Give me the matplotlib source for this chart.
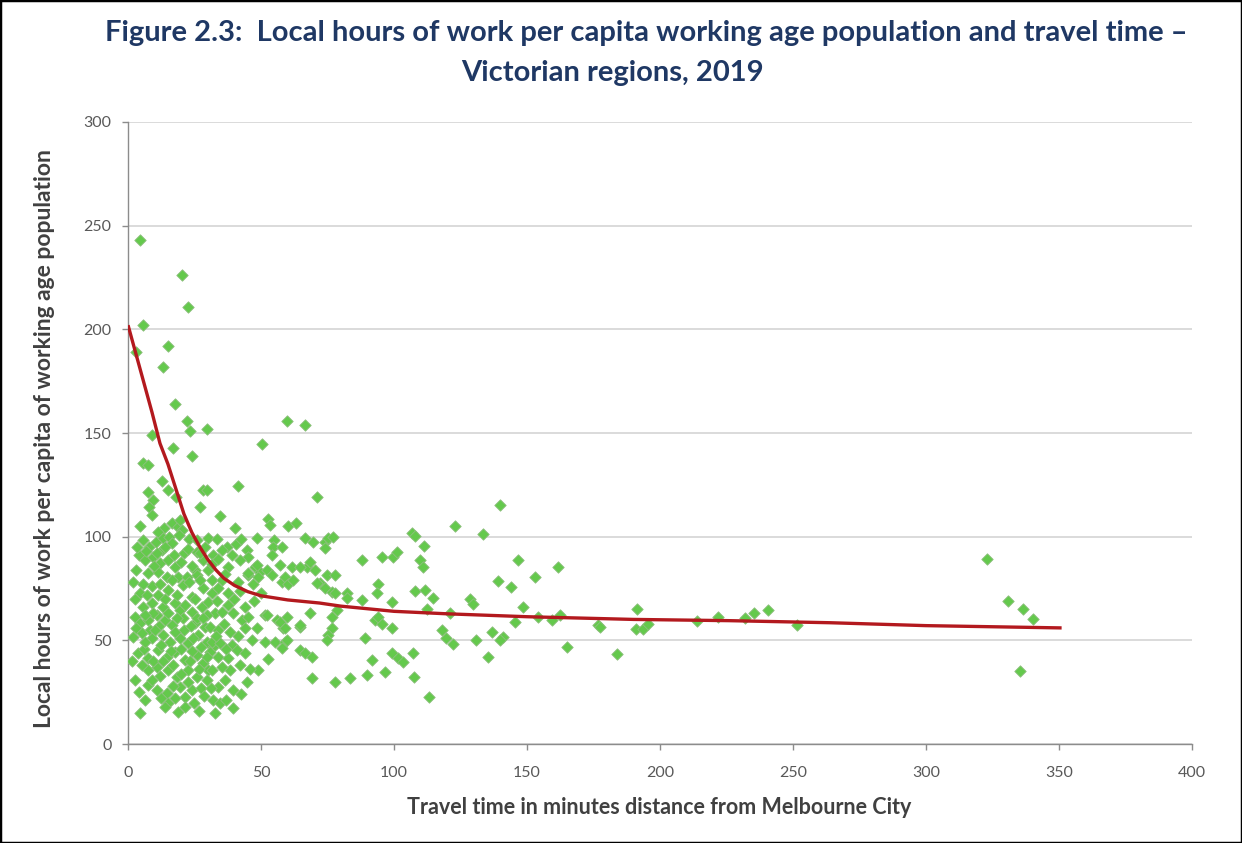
import numpy as np
import matplotlib.pyplot as plt
from matplotlib.patches import Rectangle

plt.rcParams['font.family'] = ['Lato', 'DejaVu Sans']

# regions close to the CBD, high hours (minutes, hours per capita)
upper_pts = [(4.5, 243), (20.2, 226), (22.7, 211), (5.8, 202), (3, 189), (15.2, 192),
             (13.3, 182), (17.7, 164), (22, 156), (23.3, 151), (29.8, 152), (50.3, 144.7),
             (59.7, 156), (66.5, 154), (17, 143), (24, 139), (8.9, 149), (5.8, 135.5),
             (7.5, 134.6), (12.7, 127), (15.2, 122.5), (28.3, 122.5), (29.7, 122.5),
             (7.6, 121.5), (41.5, 124.5), (71, 119.3), (9.5, 117.7), (8, 114.5), (8.9, 110.5),
             (18, 119), (27.2, 114.4), (34.6, 110), (4.5, 105), (13.6, 104.4), (16.4, 106.6),
             (18.8, 104.7), (19.5, 108), (20.2, 103.2), (11.3, 102.4), (52.7, 108.7),
             (53.4, 105.4), (60, 105), (63, 106.5), (40.2, 104)]

# inner band, 80 to 100 hours
mid_pts = [(5.5, 98.4), (8, 95.2), (10.5, 97.3), (13.3, 99.4), (15.5, 100), (16.5, 97),
           (19, 100.8), (23, 98.8), (25.8, 98.4), (25.8, 92.7), (30.2, 99.3), (33.3, 99),
           (37.1, 95.2), (40.5, 96.3), (44.6, 93.6), (35.2, 93.6), (48.4, 99.5), (55, 98.5),
           (54.6, 95), (58, 95.2), (4, 91), (12.7, 93.6), (6.4, 88.8), (9.5, 90.4), (12, 87.1),
           (15.2, 88.8), (17.7, 85.5), (7.6, 82.3), (11.4, 83.1), (14.5, 80.7), (18.9, 80.7),
           (28.3, 88.8), (30.2, 83.9), (25.2, 83.9), (22.1, 80.7), (25.8, 81.5), (54, 91),
           (45.2, 90.4), (42.1, 88.8), (57.1, 86.3), (47.7, 85.5), (49.6, 83.1), (37.7, 85.5),
           (45.2, 81.5), (48.4, 86.3), (52.1, 83.9), (3, 84), (21, 92), (32, 91),
           (3.5, 95), (6.8, 93), (9.8, 86), (11, 92), (14, 95), (17.2, 91), (20, 88),
           (22.5, 94), (24, 86), (27, 92), (29, 95), (31.5, 87), (34, 89), (36.5, 82),
           (39, 91), (42.5, 99)]

# inner band, 55 to 80 hours
low_pts = [(4.5, 72.7), (11.4, 71.9), (15.2, 74.3), (20.8, 76.7), (23.9, 71), (28.3, 75.1),
           (31.5, 72.7), (5.8, 66.2), (8.9, 67.9), (17.7, 67.9), (19.5, 64.6), (23.9, 63.8),
           (27.7, 66.2), (30.2, 68.6), (2.6, 61.4), (4.5, 58.2), (7.6, 59.8), (10.8, 62.2),
           (13.9, 59.8), (16.4, 57.4), (20.8, 60.6), (25.2, 58.2), (28.9, 56.6), (45.2, 82.3),
           (49, 80.7), (54, 81.5), (57.8, 78.3), (31.5, 79.1), (34, 75.1), (37.7, 72.7),
           (32.7, 63), (35.2, 63.8), (37.7, 67), (42.7, 59.8), (45.2, 61.4), (44, 55.8),
           (51.5, 62.2), (55.9, 59.8), (58.4, 55.8), (52.1, 62.2), (57.1, 59), (59.7, 61.4),
           (42, 74), (47, 77), (50, 73), (40, 70), (9, 76), (2, 78), (13, 66), (25, 70),
           (2.8, 70), (5.5, 77), (7, 72), (9.5, 63), (12.2, 77), (14, 70), (16.5, 79),
           (18.5, 72), (21.5, 67), (22.8, 78), (26, 61), (27, 79), (29.5, 62), (33.5, 69),
           (35.5, 79), (39.5, 63), (41.5, 78), (44, 66), (47.5, 69), (3, 56), (6.2, 62),
           (8.2, 55), (11.7, 57), (15, 63), (18.5, 61), (21, 55), (23.5, 57), (28, 61),
           (36, 58), (48.5, 56)]

# inner band, under 55 hours
bottom_pts = [(2, 51.8), (5.1, 53.4), (8.9, 51), (13.3, 52.6), (15.8, 49.3), (19.5, 51),
              (22.7, 48.6), (26.4, 52.6), (29.6, 49.3), (32.1, 46.9), (3.9, 43.7), (7.6, 41.3),
              (11.4, 45.3), (14.5, 42.1), (17.7, 44.5), (21.4, 40.5), (25.8, 42.9), (28.3, 38.9),
              (2.6, 30.9), (7.6, 35.7), (10.8, 37.3), (15.2, 35.7), (18.3, 32.5), (22.7, 35.7),
              (25.8, 32.5), (30.2, 35.7), (7.6, 28.5), (10.8, 26), (14.5, 24.5), (19.5, 27.6),
              (21.4, 22.8), (15.2, 19.6), (23.9, 26), (4.5, 14.8), (13.9, 18), (18.9, 15.6),
              (21.4, 18), (30.8, 56.6), (34, 55), (38.3, 54.2), (31.5, 49.3), (34.6, 48.6),
              (39, 47.8), (40.9, 45.3), (44, 43.7), (30.8, 44.5), (34, 42.1), (37.7, 41.3),
              (51.5, 49.3), (55.3, 49.3), (59, 49.3), (57.8, 46.1), (49, 35.7), (52.7, 40.9),
              (38.3, 35.7), (44.6, 30), (31.5, 35.7), (29.6, 30.9), (34, 27.6), (39.6, 26),
              (32.1, 21.2), (34.6, 19.6), (32.7, 14.8), (39.6, 17.2), (10, 55), (17, 38),
              (6, 46), (24, 45), (12.5, 48), (17.5, 54), (24.5, 51), (27.5, 47), (33, 52),
              (37, 46), (41.5, 52), (46.5, 50), (1.5, 40), (5.2, 38), (6.2, 49), (9.5, 40),
              (12, 33), (13, 40), (16.2, 45), (19.8, 46), (20, 34), (23.2, 40), (26.8, 36),
              (27.5, 27), (29.5, 42), (35.5, 37), (36.5, 31), (42, 38), (46, 36), (4, 25),
              (6.5, 21), (9, 31), (12.5, 22), (16.8, 28), (17.5, 22), (22.5, 30), (24.8, 20),
              (26.5, 16), (28.5, 23), (31, 27), (37, 21), (42.5, 24)]

# middle distance regions
outer_pts = [(59, 80.7), (60.3, 77.4), (61.5, 85.5), (67.2, 85.5), (70.3, 83.9), (74.7, 81.5),
             (77.8, 81.5), (72.2, 77.5), (74.1, 75.1), (76.6, 73.5), (77.8, 72.7), (82.2, 72.7),
             (82.2, 70.3), (87.8, 88.8), (95.4, 90), (99.7, 90.4), (101, 92.7), (94.1, 77.4),
             (93.5, 72.7), (87.8, 69.5), (99.1, 68.7), (68.4, 63), (76.6, 61.4), (64.7, 56.6),
             (59, 55.8), (92.9, 59.8), (94.1, 61.4), (95.4, 58.1), (99.1, 55.8), (76.6, 55.8),
             (75.3, 52.6), (74.7, 50.2), (59.7, 50.2), (89.1, 51), (64.7, 45.3), (66.5, 43.7),
             (69, 42.1), (91.6, 40.5), (99.1, 43.7), (101.6, 41.3), (103.5, 39.7), (96.6, 34.9),
             (89.7, 33.3), (69, 31.7), (77.8, 30), (83.5, 31.7), (66.5, 99.2), (69.5, 97.6),
             (74.1, 97.6), (75.3, 99.2), (77.2, 100), (74.1, 94.4), (78.4, 64.6), (68.4, 88),
             (64.7, 85.5), (62.1, 79.1), (70.9, 77.5), (64.7, 57.4)]

# regional areas
far_pts = [(106.6, 101.6), (107.9, 100.3), (111.3, 95.6), (109.8, 88.8), (110.8, 85.5),
           (107.9, 74), (111.7, 74.3), (114.8, 70.3), (112.3, 64.9), (117.9, 55), (119.7, 51),
           (122.3, 48.4), (107.3, 44), (107.6, 32.2), (113.3, 22.5), (122.9, 105.2),
           (133.3, 101.3), (139.8, 115.3), (128.6, 69.8), (129.8, 67.5), (130.8, 50.2),
           (136.7, 54.2), (141.1, 51.8), (139.8, 50.2), (135.4, 42.1), (145.5, 59),
           (139.2, 78.6), (143.9, 75.9), (146.7, 88.8), (148.6, 66.2), (153, 80.4),
           (154.3, 61.4), (121, 63), (161.8, 85.2), (159.3, 59.8), (162.4, 62.2), (165.1, 46.9),
           (176.8, 57.4), (177.4, 56.6), (183.7, 43.4), (191.5, 64.9), (191, 55.3),
           (193.7, 55.3), (195.6, 58.1), (213.8, 59.5), (221.9, 61.1), (232, 60.6),
           (235.3, 63), (240.5, 64.6), (251.4, 57.4), (323, 89.4), (331, 69), (336.3, 65),
           (340.3, 60.3), (335.3, 35.4)]

# fitted trend
trend_x = [0, 3, 6, 9, 12, 15, 18, 21, 24, 27, 30, 33, 36, 40, 45, 50, 60, 72, 80, 100,
           120, 150, 190, 226, 264, 300, 351]
trend_y = [202, 188, 174, 160, 145, 135, 123, 111, 102, 95, 89, 84, 80, 76.5, 73.5, 71.5,
           69.5, 68, 66.5, 64, 62.8, 61.4, 60.1, 59.5, 58.5, 57.1, 56]

pts = np.array(upper_pts + mid_pts + low_pts + bottom_pts + outer_pts + far_pts)

fig = plt.figure(figsize=(12.42, 8.43), dpi=100)
ax = fig.add_axes([0.1031, 0.1174, 0.8566, 0.7379])

ax.scatter(pts[:, 0], pts[:, 1], marker='D', s=34, color='#64c94c',
           edgecolors='#8fbf80', linewidths=0.6, zorder=3)
ax.plot(trend_x, trend_y, color='#b3191e', lw=2.4, zorder=4, solid_capstyle='butt')

ax.set_xlim(0, 400)
ax.set_ylim(0, 300)
ax.set_xticks(range(0, 401, 50))
ax.set_yticks(range(0, 301, 50))
ax.grid(axis='y', color='#d4d4d4', lw=1.2)
ax.set_axisbelow(True)
for s in ['top', 'right']:
    ax.spines[s].set_visible(False)
for s in ['left', 'bottom']:
    ax.spines[s].set_color('#8c8c8c')
    ax.spines[s].set_linewidth(1.0)
ax.tick_params(colors='#8c8c8c', length=4, width=1.0, labelcolor='#595959',
               labelsize=11.5, pad=8)
ax.tick_params(axis='x', pad=12)

fig.text(0.531, 0.042, 'Travel time in minutes distance from Melbourne City',
         ha='center', va='center', fontsize=15.5, fontweight='bold', color='#404040')
fig.text(0.036, 0.480, 'Local hours of work per capita of working age population',
         ha='center', va='center', rotation=90, fontsize=16.5, fontweight='bold',
         color='#404040')

fig.text(0.520, 0.961, 'Figure 2.3:  Local hours of work per capita working age population and travel time \u2013',
         ha='center', va='center', fontsize=21, fontweight='bold', color='#1f3864')
fig.text(0.493, 0.913, 'Victorian regions, 2019', ha='center', va='center',
         fontsize=21, fontweight='bold', color='#1f3864')

fig.patches.append(Rectangle((0, 0), 1, 1, transform=fig.transFigure, fill=False,
                             edgecolor='black', lw=2.5))

fig.savefig('out.png', dpi=100)
